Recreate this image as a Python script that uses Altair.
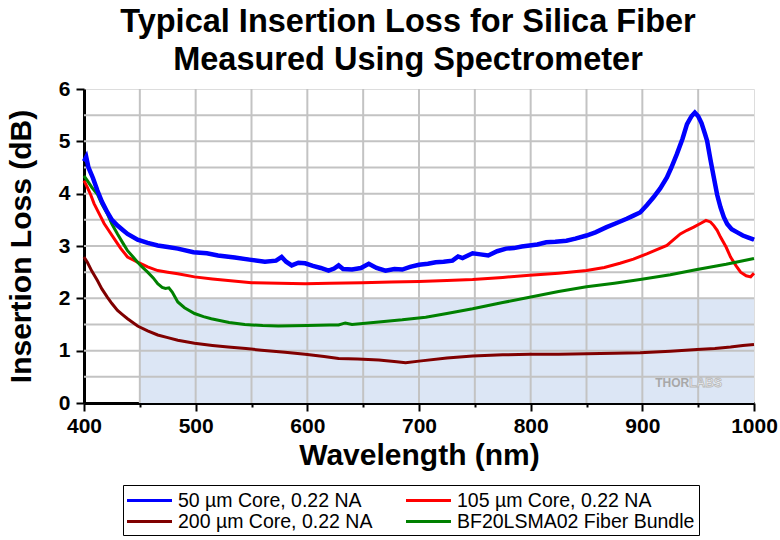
import altair as alt
import pandas as pd

# ---------------- data ----------------
series_names = ["50 µm Core, 0.22 NA", "105 µm Core, 0.22 NA",
                "200 µm Core, 0.22 NA", "BF20LSMA02 Fiber Bundle"]
series_colors = ["#0000ff", "#ff0000", "#800000", "#008000"]

wl_50 = [400, 402, 404, 408, 412, 416, 421, 425, 430, 435, 439, 448, 457, 466, 475, 484, 498, 510,
         520, 535, 548, 562, 572, 577, 581, 586, 592, 598, 605, 612, 619, 624, 628, 632, 640, 648,
         655, 662, 670, 678, 685, 692, 700, 708, 715, 722, 730, 735, 739, 748, 755, 762, 770, 778,
         785, 792, 799, 806, 814, 822, 832, 840, 850, 858, 868, 877, 886, 892, 898, 904, 910, 916,
         922, 926, 931, 936, 940, 944, 947, 950, 953, 956, 958, 961, 964, 967, 970, 973, 976, 980,
         985, 990, 995, 1000]
il_50 = [4.62, 4.70, 4.50, 4.30, 4.06, 3.85, 3.64, 3.50, 3.39, 3.30, 3.23, 3.12, 3.06, 3.01, 2.98,
         2.95, 2.88, 2.86, 2.82, 2.78, 2.74, 2.70, 2.72, 2.79, 2.70, 2.63, 2.68, 2.67, 2.62, 2.58,
         2.53, 2.57, 2.63, 2.56, 2.55, 2.58, 2.66, 2.58, 2.53, 2.56, 2.55, 2.60, 2.64, 2.66, 2.69,
         2.70, 2.72, 2.80, 2.77, 2.86, 2.84, 2.82, 2.90, 2.95, 2.96, 2.99, 3.01, 3.03, 3.07, 3.08,
         3.10, 3.14, 3.20, 3.26, 3.36, 3.44, 3.52, 3.58, 3.64, 3.78, 3.93, 4.10, 4.31, 4.50, 4.76,
         5.05, 5.33, 5.48, 5.55, 5.48, 5.35, 5.15, 5.01, 4.65, 4.31, 3.98, 3.74, 3.55, 3.42, 3.32,
         3.26, 3.20, 3.16, 3.12]

wl_105 = [400, 403, 406, 409, 414, 418, 422, 427, 433, 439, 448, 457, 466, 475, 484, 499, 515, 529,
          550, 575, 598, 620, 649, 675, 700, 725, 748, 775, 799, 825, 850, 866, 880, 892, 904, 913,
          922, 928, 934, 940, 946, 952, 957, 961, 964, 967, 970, 975, 979, 984, 988, 993, 997, 1000]
il_105 = [4.25, 4.12, 3.98, 3.81, 3.60, 3.43, 3.30, 3.14, 2.95, 2.79, 2.69, 2.60, 2.53, 2.50, 2.47,
          2.41, 2.37, 2.34, 2.30, 2.29, 2.28, 2.29, 2.30, 2.31, 2.32, 2.34, 2.36, 2.40, 2.44, 2.48,
          2.53, 2.59, 2.67, 2.75, 2.85, 2.93, 3.01, 3.12, 3.23, 3.30, 3.36, 3.43, 3.49, 3.46, 3.39,
          3.30, 3.17, 2.98, 2.79, 2.62, 2.50, 2.43, 2.41, 2.48]

wl_200 = [400, 403, 407, 412, 416, 421, 425, 430, 435, 439, 448, 457, 466, 475, 484, 499, 515, 529,
          545, 559, 580, 598, 615, 628, 645, 664, 680, 688, 700, 725, 748, 775, 799, 825, 850, 875,
          898, 925, 949, 965, 979, 990, 1000]
il_200 = [2.79, 2.69, 2.52, 2.34, 2.18, 2.02, 1.90, 1.77, 1.68, 1.61, 1.47, 1.38, 1.30, 1.25, 1.20,
          1.14, 1.10, 1.07, 1.04, 1.01, 0.97, 0.93, 0.89, 0.85, 0.84, 0.82, 0.79, 0.77, 0.80, 0.86,
          0.90, 0.92, 0.93, 0.93, 0.94, 0.95, 0.96, 0.99, 1.02, 1.04, 1.07, 1.10, 1.12]

wl_bf = [400, 403, 407, 412, 416, 421, 425, 430, 435, 439, 444, 448, 452, 457, 462, 466, 470, 473,
         476, 479, 484, 490, 499, 507, 514, 530, 544, 560, 574, 600, 620, 628, 634, 640, 664, 685,
         706, 725, 748, 775, 799, 825, 850, 875, 898, 925, 949, 975, 1000]
il_bf = [4.34, 4.25, 4.12, 3.99, 3.80, 3.61, 3.42, 3.23, 3.05, 2.91, 2.79, 2.69, 2.60, 2.50, 2.39,
         2.28, 2.21, 2.19, 2.20, 2.12, 1.93, 1.82, 1.71, 1.65, 1.61, 1.54, 1.50, 1.48, 1.47, 1.48,
         1.49, 1.49, 1.53, 1.50, 1.55, 1.59, 1.64, 1.71, 1.80, 1.92, 2.02, 2.13, 2.22, 2.29, 2.36,
         2.45, 2.55, 2.65, 2.76]

shade_x = [450, 1000]
shade_y = [0, 2]
grid_x = [450, 500, 550, 600, 650, 700, 750, 800, 850, 900, 950]
grid_y = [0.5, 1, 1.5, 2, 2.5, 3, 3.5, 4, 4.5, 5, 5.5]
x_ticks = [400, 450, 500, 550, 600, 650, 700, 750, 800, 850, 900, 950, 1000]
y_ticks = [0, 0.5, 1, 1.5, 2, 2.5, 3, 3.5, 4, 4.5, 5, 5.5, 6]
logo_pos = [942, 0.39]

# ---------------- tables ----------------
rows = []
for name, wl, il in zip(series_names, [wl_50, wl_105, wl_200, wl_bf],
                        [il_50, il_105, il_200, il_bf]):
    for w, v in zip(wl, il):
        rows.append({"series": name, "wl": w, "il": v})
df = pd.DataFrame(rows)
df_blue = pd.DataFrame({"wl": wl_50, "il": il_50})

FONT = "Liberation Sans"

x_axis = alt.Axis(
    values=x_ticks, grid=False, title="Wavelength (nm)", format="d",
    labelExpr="datum.value % 100 === 0 ? datum.label : ''",
    labelFont=FONT, labelFontSize=21, labelFontWeight="bold", labelColor="black",
    labelPadding=4, labelFlush=False, labelOverlap=False,
    tickSize={"condition": {"test": "datum.value % 100 === 0", "value": 8}, "value": 4},
    tickColor="black", tickWidth=2,
    domainColor="black", domainWidth=3,
    titleFont=FONT, titleFontSize=30, titleFontWeight="bold", titleColor="black",
    titlePadding=4,
)
y_axis = alt.Axis(
    values=y_ticks, grid=False, title="Insertion Loss (dB)", format="d",
    labelExpr="datum.value % 1 === 0 ? datum.label : ''",
    labelFont=FONT, labelFontSize=21, labelFontWeight="bold", labelColor="black",
    labelPadding=6, labelFlush=False, labelOverlap=False,
    tickSize={"condition": {"test": "datum.value % 1 === 0", "value": 8}, "value": 4},
    tickColor="black", tickWidth=2,
    domainColor="black", domainWidth=3,
    titleFont=FONT, titleFontSize=30, titleFontWeight="bold", titleColor="black",
    titlePadding=22,
)
xs = alt.Scale(domain=[400, 1000], nice=False, zero=False)
ys = alt.Scale(domain=[0, 6], nice=False, zero=False)

shade_df = pd.DataFrame({"x": [shade_x[0]], "x2": [shade_x[1]],
                         "y": [shade_y[0]], "y2": [shade_y[1]]})
shade = alt.Chart(shade_df).mark_rect(color="#dce6f5").encode(
    x=alt.X("x:Q", scale=xs, axis=x_axis), x2="x2:Q",
    y=alt.Y("y:Q", scale=ys, axis=y_axis), y2="y2:Q",
)

gx = alt.Chart(pd.DataFrame({"wl": grid_x})).mark_rule(color="#c3c3c3", strokeWidth=2).encode(
    x=alt.X("wl:Q", scale=xs, axis=x_axis)
)
gy = alt.Chart(pd.DataFrame({"il": grid_y})).mark_rule(color="#c3c3c3", strokeWidth=2).encode(
    y=alt.Y("il:Q", scale=ys, axis=y_axis)
)

logo_df = pd.DataFrame({"wl": [logo_pos[0]], "il": [logo_pos[1]]})
logo1 = alt.Chart(logo_df).mark_text(
    text="THOR", font=FONT, fontSize=12, fontWeight="bold", color="#a8a8a8",
    align="right", baseline="middle"
).encode(x=alt.X("wl:Q", scale=xs, axis=x_axis), y=alt.Y("il:Q", scale=ys, axis=y_axis))
logo2 = alt.Chart(logo_df).mark_text(
    text="LABS", font=FONT, fontSize=12, fontWeight="bold", color="#f4f4f4",
    stroke="#b8b8b8", strokeWidth=0.8, align="left", baseline="middle"
).encode(x=alt.X("wl:Q", scale=xs, axis=x_axis), y=alt.Y("il:Q", scale=ys, axis=y_axis))

lines = alt.Chart(df).mark_line(strokeWidth=3).encode(
    x=alt.X("wl:Q", scale=xs, axis=x_axis),
    y=alt.Y("il:Q", scale=ys, axis=y_axis),
    color=alt.Color("series:N",
                    scale=alt.Scale(domain=series_names, range=series_colors),
                    sort=series_names,
                    legend=alt.Legend(
                        title=None, orient="none", legendX=39, legendY=396,
                        columns=2, direction="horizontal",
                        symbolType="M-2.25,0H2.25", symbolSize=400,
                        symbolStrokeWidth=3, symbolOffset=11,
                        labelFont=FONT, labelFontSize=19.5,
                        labelColor="black", labelOffset=17, columnPadding=27,
                        rowPadding=0, padding=4, strokeColor="black",
                        fillColor="white", labelLimit=400,
                    )),
    order=alt.Order("wl:Q"),
)

# the 50 µm trace is noisy in the reference, drawn slightly heavier on top
blue_top = alt.Chart(df_blue).mark_line(strokeWidth=4.5, color=series_colors[0]).encode(
    x=alt.X("wl:Q", scale=xs, axis=x_axis),
    y=alt.Y("il:Q", scale=ys, axis=y_axis),
    order=alt.Order("wl:Q"),
)

chart = alt.layer(shade, gx, gy, logo1, logo2, lines, blue_top).properties(
    width=670, height=314,
    title=alt.TitleParams(
        text=["Typical Insertion Loss for Silica Fiber", "Measured Using Spectrometer"],
        font=FONT, fontSize=32.5, fontWeight="bold", color="black",
        anchor="middle", dx=-11, lineHeight=38.6, offset=1,
    ),
    autosize=alt.AutoSizeParams(type="none"),
    padding={"left": 84, "top": 89, "right": 26, "bottom": 137},
).configure_view(stroke="black", strokeWidth=3).configure(background="white")

chart.save("out.html", embed_options={"renderer": "svg", "actions": False})
